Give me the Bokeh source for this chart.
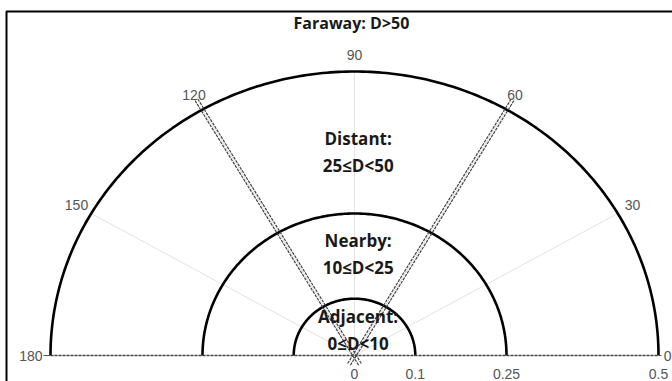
import numpy as np
from bokeh.plotting import figure
from bokeh.models import Range1d
from bokeh.core.properties import value
from bokeh.embed import file_html
from bokeh.resources import INLINE

# ---- chart content ----
ring_radii = [0.1, 0.25, 0.5]            # distance band boundaries
radial_ticks = [0, 0.1, 0.25, 0.5]
radial_tick_labels = ["0", "0.1", "0.25", "0.5"]
angle_ticks = [0, 30, 60, 90, 120, 150, 180]
sector_edges = [60, 120]                  # field-of-view limits (degrees)
band_titles = ["Adjacent:", "Nearby:", "Distant:"]
band_ranges = ["0≤D<10", "10≤D<25", "25≤D<50"]
band_label_r = [0.045, 0.18, 0.36]        # vertical placement of each band label
outer_title = "Faraway: D>50"
r_max = 0.5

# ---- layout (pixels) ----
W, H = 672, 381
cx_px, cy_px = 354, 355       # pole position on the canvas
rx_px, ry_px = 304, 284       # pixel extent of r_max horizontally / vertically
sx = rx_px / r_max
sy = ry_px / r_max

def px_to_x(px):
    return (px - cx_px) / sx

def py_to_y(py):
    return (cy_px - py) / sy

def polar(r, deg):
    t = np.deg2rad(deg)
    return r * np.cos(t), r * np.sin(t)

p = figure(width=W, height=H, output_backend="svg", toolbar_location=None,
           x_range=Range1d(px_to_x(0), px_to_x(W)),
           y_range=Range1d(py_to_y(H), py_to_y(0)),
           min_border=0)
p.axis.visible = False
p.grid.visible = False
p.outline_line_color = None
p.background_fill_color = "white"
p.border_fill_color = "white"

TICK_FONT = value("Liberation Sans")
LABEL_FONT = value("Open Sans")
TICK_COLOR = "#555555"
LABEL_COLOR = "#1a1a1a"

# angular grid spokes
for a in angle_ticks:
    x, y = polar(r_max, a)
    p.line([0, x], [0, y], line_color="#e2e2e2", line_width=1)

# band boundary rings
theta = np.linspace(0, 180, 241)
for r in ring_radii:
    x, y = polar(r, theta)
    p.line(x, y, line_color="black", line_width=2.6)

# dashed baseline (0° to 180°)
x0, _ = polar(r_max, 0)
x1, _ = polar(r_max, 180)
p.line([x1, x0], [0, 0], line_color="#444444", line_width=1.5, line_dash="3 1")

# small ticks at 0° and 180°
tick_px = 7
for a in [0, 180]:
    xa, _ = polar(r_max, a)
    xb = xa + np.sign(np.cos(np.deg2rad(a))) * (tick_px if a == 180 else 3) / sx
    p.line([xa, xb], [0, 0], line_color="#555555", line_width=1)

# double dashed sector edges
off_px = 1.6
for a in sector_edges:
    t = np.deg2rad(a)
    dxp, dyp = np.cos(t) * sx, np.sin(t) * sy
    n = np.hypot(dxp, dyp)
    nxp, nyp = -dyp / n, dxp / n
    r0, r1 = -0.018, 0.522
    for s in (-1, 1):
        ox = s * off_px * nxp / sx
        oy = s * off_px * nyp / sy
        xs = [r0 * np.cos(t) + ox, r1 * np.cos(t) + ox]
        ys = [r0 * np.sin(t) + oy, r1 * np.sin(t) + oy]
        p.line(xs, ys, line_color="#444444", line_width=1.2, line_dash="3 1")

# angular tick labels
lab_x, lab_y, lab_t, lab_align = [], [], [], []
for a in angle_ticks:
    t = np.deg2rad(a)
    if a == 0:
        lab_x.append(px_to_x(W - 1)); lab_y.append(0); lab_align.append("right")
    elif a == 180:
        lab_x.append(-r_max - (tick_px + 1) / sx); lab_y.append(0); lab_align.append("right")
    else:
        lab_x.append(r_max * np.cos(t) + 17 * np.cos(t) / sx)
        lab_y.append(r_max * np.sin(t) + 17 * np.sin(t) / sy)
        lab_align.append("center")
    lab_t.append(str(a))
p.text(x=lab_x, y=lab_y, text=lab_t, text_align=lab_align, text_baseline="middle",
       text_font=TICK_FONT, text_font_size="14px", text_color=TICK_COLOR)

# radial tick labels below the baseline (last one kept inside the canvas)
rt_x = [min(v, px_to_x(W - 12)) for v in radial_ticks]
p.text(x=rt_x, y=[-18 / sy] * len(radial_ticks), text=radial_tick_labels,
       text_align="center", text_baseline="middle",
       text_font=TICK_FONT, text_font_size="14px", text_color=TICK_COLOR)

# band labels
for title, rng, yc in zip(band_titles, band_ranges, band_label_r):
    p.text(x=[0.006], y=[yc + 13 / sy], text=[title], text_align="center",
           text_baseline="middle", text_font=LABEL_FONT,
           text_font_style="bold", text_font_size="17px", text_color=LABEL_COLOR)
    p.text(x=[0.006], y=[yc - 14 / sy], text=[rng], text_align="center",
           text_baseline="middle", text_font=LABEL_FONT,
           text_font_style="bold", text_font_size="17px", text_color=LABEL_COLOR)

p.text(x=[-0.005], y=[py_to_y(22)], text=[outer_title], text_align="center",
       text_baseline="middle", text_font=LABEL_FONT, text_font_style="bold",
       text_font_size="16px", text_color=LABEL_COLOR)

# frame border along the left and top edges
p.line([px_to_x(6), px_to_x(6), px_to_x(W + 5)],
       [py_to_y(H + 5), py_to_y(11), py_to_y(11)],
       line_color="black", line_width=2)

open("out.html", "w").write(file_html(p, INLINE))
